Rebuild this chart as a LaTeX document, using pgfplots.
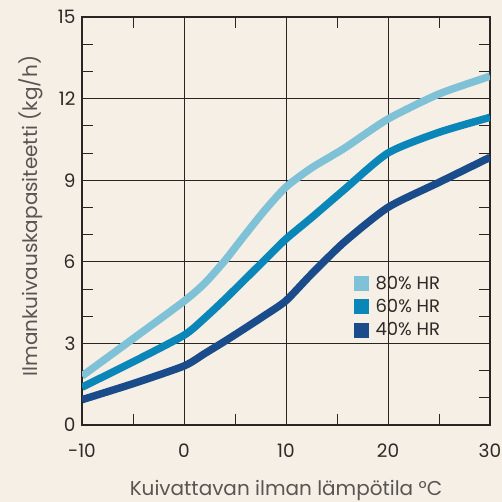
\documentclass[border=0pt]{standalone}
\usepackage{pgfplots}
\pgfplotsset{compat=1.18}
\usepackage{fontspec}
\setmainfont{Poppins}
\definecolor{bgc}{HTML}{F6EFE5}
\definecolor{txt}{HTML}{2E2A28}
\definecolor{gridc}{HTML}{2A2522}
\definecolor{cA}{HTML}{7FC1D6}
\definecolor{cB}{HTML}{0A86B8}
\definecolor{cC}{HTML}{1A4B8B}
\begin{document}
\begin{tikzpicture}
\useasboundingbox (0,0) rectangle (502pt,502pt);
\fill[bgc] (0,0) rectangle (502pt,502pt);
\begin{axis}[
  at={(82pt,77pt)}, anchor=south west,
  scale only axis, width=408pt, height=408pt,
  xmin=-10, xmax=30, ymin=0, ymax=15,
  xtick={-10,0,10,20,30}, xticklabels={-10,0,10,20,30},
  ytick={0,3,6,9,12,15}, yticklabels={0,3,6,9,12,15},
  minor xtick={-5,5,15,25}, minor ytick={1,2,4,5,7,8,10,11,13,14},
  tick align=inside,
  major tick length=0pt, minor tick length=11pt,
  xmajorgrids, ymajorgrids,
  major grid style={gridc, line width=0.9pt},
  minor tick style={gridc, line width=0.9pt},
  axis line style={gridc, line width=1.2pt},
  tick label style={font=\fontsize{18.5}{21}\selectfont, text=txt},
  xticklabel style={yshift=-15pt},
  yticklabel style={xshift=-3pt},
  xlabel={Kuivattavan ilman lämpötila °C},
  ylabel={Ilmankuivauskapasiteetti (kg/h)},
  label style={font=\fontsize{20}{24}\selectfont, text=txt!80!white},
  xlabel style={yshift=-19pt, inner sep=0pt},
  ylabel style={yshift=8pt, xshift=5pt},
  legend style={at={(0.665,0.375)}, anchor=north west, draw=none, fill=none,
    font=\fontsize{18}{21}\selectfont, text=txt, row sep=4.5pt,
    inner xsep=0pt},
  legend cell align=left,
  legend image code/.code={\fill[#1, draw=none] (0pt,-7.5pt) rectangle (15pt,7.5pt);},
  every axis plot/.append style={line width=7.5pt, smooth, tension=0.4},
  clip=true,
]
\addplot[cA] coordinates {(-10,1.80) (-5,3.17) (0,4.55) (2,5.20) (4,6.04) (6,7.00) (8,7.93) (10,8.75) (12.5,9.45) (15.7,10.17) (20,11.25) (25,12.17) (30,12.82)};
\addlegendentry{\hspace{5pt}80\% HR}
\addplot[cB] coordinates {(-10,1.39) (-5,2.32) (0,3.30) (2,3.92) (4,4.62) (6,5.36) (8,6.10) (10,6.84) (12.5,7.62) (15.7,8.65) (20,10.0) (25,10.76) (30,11.31)};
\addlegendentry{\hspace{5pt}60\% HR}
\addplot[cC] coordinates {(-10,0.93) (-5,1.52) (0,2.17) (2,2.62) (4,3.08) (6,3.56) (8,4.05) (10,4.57) (12.5,5.55) (15.7,6.72) (20,8.0) (25,8.92) (30,9.84)};
\addlegendentry{\hspace{5pt}40\% HR}
\end{axis}
\end{tikzpicture}
\end{document}
